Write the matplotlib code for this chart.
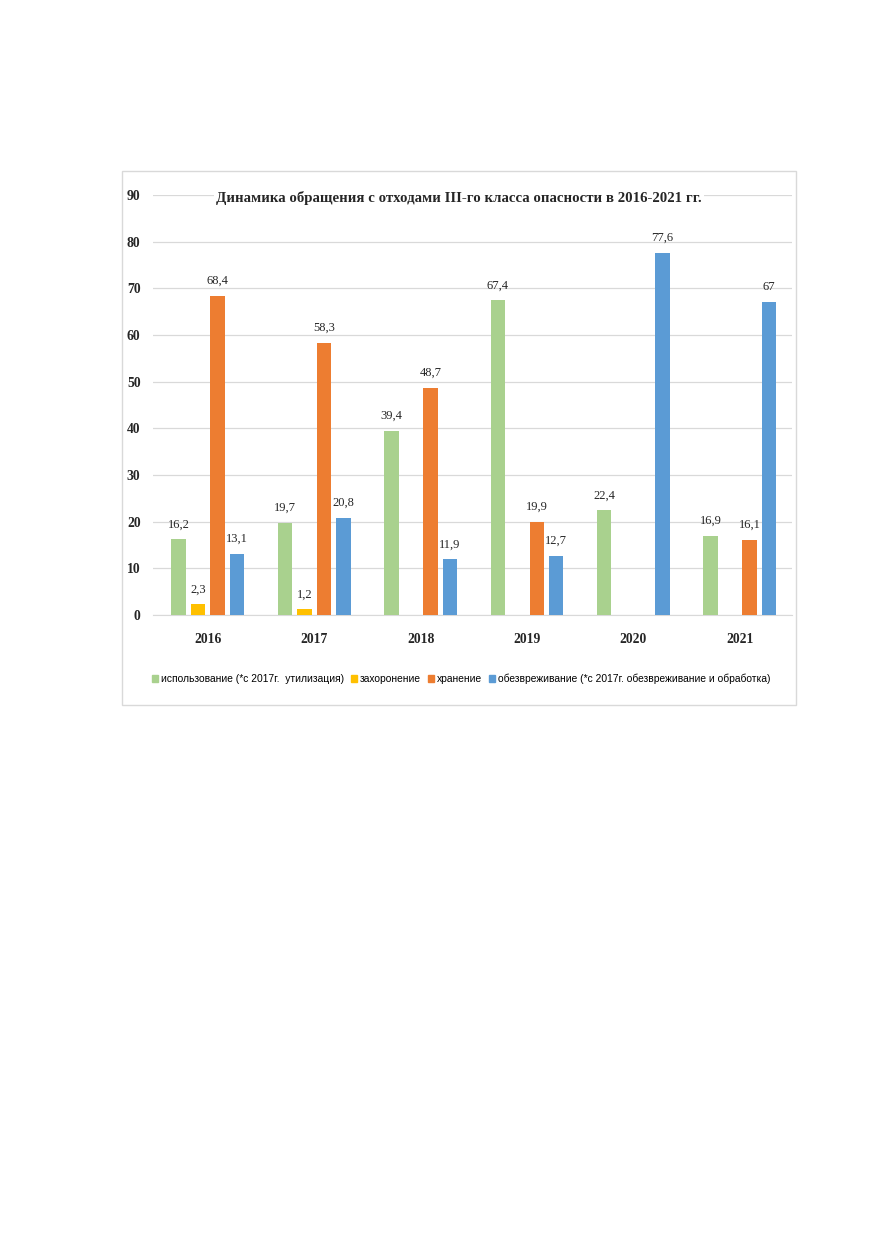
import matplotlib
matplotlib.use("Agg")
import matplotlib.pyplot as plt
import matplotlib.patches as mpatches
import numpy as np
from matplotlib import font_manager

years = ["2016", "2017", "2018", "2019", "2020", "2021"]
series_names = [
    "использование (*с 2017г.  утилизация)",
    "захоронение",
    "хранение",
    "обезвреживание (*с 2017г. обезвреживание и обработка)",
]
ispolzovanie = [16.2, 19.7, 39.4, 67.4, 22.4, 16.9]
zahoronenie = [2.3, 1.2, 0, 0, 0, 0]
hranenie = [68.4, 58.3, 48.7, 19.9, 0, 16.1]
obezvrezhivanie = [13.1, 20.8, 11.9, 12.7, 77.6, 67]
colors = ["#A9D18E", "#FFC000", "#ED7D31", "#5B9BD5"]
title = "Динамика обращения с отходами III-го класса опасности в 2016-2021 гг."

serif = ["Liberation Serif", "DejaVu Serif"]
avail = {f.name for f in font_manager.fontManager.ttflist}
narrow = ["Liberation Sans Narrow", "Liberation Sans", "DejaVu Sans"] if "Liberation Sans Narrow" in avail else ["Liberation Sans", "DejaVu Sans"]

W, H = 875, 1241
fig = plt.figure(figsize=(W / 100, H / 100), dpi=100)

# chart frame
fig.patches.append(mpatches.Rectangle((122 / W, 1 - 705 / H), (796 - 122) / W, (705 - 171) / H,
                                      transform=fig.transFigure, fill=False,
                                      edgecolor="#D9D9D9", linewidth=1.0))

ax = fig.add_axes([153 / W, (H - 615) / H, 639 / W, 420 / H])
data = [ispolzovanie, zahoronenie, hranenie, obezvrezhivanie]
x = np.arange(len(years))
step = 0.183
bw = 0.136
for i, (vals, col, name) in enumerate(zip(data, colors, series_names)):
    pos = x + (i - 1.5) * step
    ax.bar(pos, vals, width=bw, color=col, label=name, zorder=3)
    for p, v in zip(pos, vals):
        if v > 0:
            lab = ("%g" % v).replace(".", ",")
            ax.annotate(lab, (p, v), xytext=(0, 6.5), textcoords="offset points",
                        ha="center", va="bottom", fontsize=9, family=serif, color="#262626")

ax.set_xlim(-0.515, 5.49)
ax.set_ylim(0, 90)
ax.set_yticks(range(0, 91, 10))
ax.set_xticks(x)
ax.set_xticklabels(years)
ax.grid(axis="y", color="#D9D9D9", linewidth=0.9, zorder=0)
ax.set_axisbelow(True)
for s in ["top", "right", "left"]:
    ax.spines[s].set_visible(False)
ax.spines["bottom"].set_color("#D9D9D9")
ax.tick_params(axis="both", length=0)
ax.tick_params(axis="y", pad=9)
ax.tick_params(axis="x", pad=13)
for t in ax.get_yticklabels() + ax.get_xticklabels():
    t.set_family(serif)
    t.set_fontweight("bold")
    t.set_fontsize(9.8)
    t.set_color("#262626")

fig.text(459 / W, 1 - 198 / H, title, ha="center", va="center", fontsize=10.7,
         fontweight="bold", family=serif, color="#262626",
         bbox=dict(facecolor="white", edgecolor="none", pad=1.5), zorder=5)

handles = [mpatches.Patch(color=c) for c in colors]
fig.legend(handles, series_names, loc="center", bbox_to_anchor=(461 / W, 1 - 679 / H),
           ncol=4, frameon=False, handlelength=0.6, handleheight=0.6, handletextpad=0.25,
           columnspacing=0.7, prop={"family": narrow, "size": 7.4})

fig.savefig("out.png", dpi=100)
